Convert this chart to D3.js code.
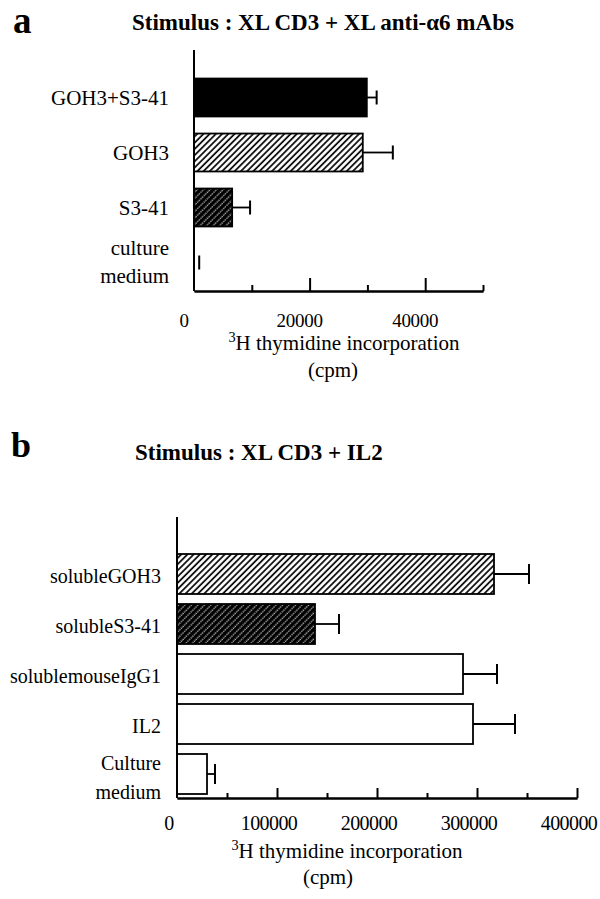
<!DOCTYPE html>
<html>
<head>
<meta charset="utf-8">
<script src="https://cdn.jsdelivr.net/npm/d3@7"></script>
<style>
  html, body { margin: 0; padding: 0; background: #fff; }
  svg { display: block; }
</style>
</head>
<body>
<svg id="chart" width="600" height="899" font-family="'Liberation Serif', 'Times New Roman', Times, serif"></svg>
<script>
// ---------- Panel a data ----------
const catsA = ["GOH3+S3-41", "GOH3", "S3-41", "culture\nmedium"];
const valsA = [29900, 29200, 6600, 0];
const errsA = [1700, 5200, 3100, 900];
const fillsA = ["solid", "light", "dark", "none"];
const majorTicksA = [20000, 40000];
const minorTicksA = [10000, 30000, 50000];
const tickLabelsA = [0, 20000, 40000];

// ---------- Panel b data ----------
const catsB = ["solubleGOH3", "solubleS3-41", "solublemouseIgG1", "IL2", "Culture\nmedium"];
const valsB = [317000, 138000, 286000, 296000, 30000];
const errsB = [35000, 24000, 34000, 42000, 8000];
const fillsB = ["light", "dark", "none", "none", "none"];
const majorTicksB = [100000, 200000, 300000, 400000];
const minorTicksB = [50000, 150000, 250000, 350000];
const tickLabelsB = [0, 100000, 200000, 300000, 400000];

const FONT = "'Liberation Serif', 'Times New Roman', Times, serif";
const svg = d3.select("#chart");
const defs = svg.append("defs");

// light hatch: white with black diagonal lines
const pl = defs.append("pattern").attr("id", "light")
  .attr("patternUnits", "userSpaceOnUse").attr("width", 4.4).attr("height", 4.4)
  .attr("patternTransform", "rotate(45)");
pl.append("rect").attr("width", 4.4).attr("height", 4.4).attr("fill", "#fff");
pl.append("line").attr("x1", 1).attr("x2", 1).attr("y1", 0).attr("y2", 4.4)
  .attr("stroke", "#000").attr("stroke-width", 1.7);

// dark hatch: black with thin dotted white diagonal lines
const pd = defs.append("pattern").attr("id", "dark")
  .attr("patternUnits", "userSpaceOnUse").attr("width", 4.6).attr("height", 4.6)
  .attr("patternTransform", "rotate(45)");
pd.append("rect").attr("width", 4.6).attr("height", 4.6).attr("fill", "#000");
pd.append("line").attr("x1", 2).attr("x2", 2).attr("y1", 0).attr("y2", 4.6)
  .attr("stroke", "#fff").attr("stroke-width", 0.9).attr("stroke-dasharray", "1.5,0.8");

function fillFor(f) {
  if (f === "solid") return "#000";
  if (f === "light") return "url(#light)";
  if (f === "dark") return "url(#dark)";
  return "#fff";
}

function txt(g) {
  return g.append("text").attr("font-family", FONT).attr("fill", "#000");
}

function panel(cfg) {
  const g = svg.append("g");
  const x = d3.scaleLinear().domain(cfg.domain).range(cfg.xRange);
  const y = d3.scaleBand().domain(cfg.cats).range(cfg.yRange)
    .paddingInner(cfg.padIn).paddingOuter(cfg.padOut);

  // bars
  g.selectAll("rect.bar").data(cfg.cats).join("rect")
    .attr("class", "bar")
    .attr("x", x(0))
    .attr("y", d => y(d))
    .attr("width", (d, i) => x(cfg.vals[i]) - x(0))
    .attr("height", y.bandwidth())
    .attr("fill", (d, i) => fillFor(cfg.fills[i]))
    .attr("stroke", "#000")
    .attr("stroke-width", (d, i) => cfg.vals[i] > 0 ? 1.8 : 0);

  // error bars
  cfg.cats.forEach((c, i) => {
    const cy = y(c) + y.bandwidth() / 2;
    const x1 = x(cfg.vals[i]), x2 = x(cfg.vals[i] + cfg.errs[i]);
    if (cfg.vals[i] > 0) {
      g.append("line").attr("x1", x1).attr("x2", x2).attr("y1", cy).attr("y2", cy)
        .attr("stroke", "#000").attr("stroke-width", 1.8);
    }
    g.append("line").attr("x1", x2).attr("x2", x2)
      .attr("y1", cy - cfg.cap / 2).attr("y2", cy + cfg.cap / 2)
      .attr("stroke", "#000").attr("stroke-width", 2);
  });

  // y axis line
  g.append("line").attr("x1", x(0)).attr("x2", x(0))
    .attr("y1", cfg.yTop).attr("y2", cfg.axisY)
    .attr("stroke", "#000").attr("stroke-width", 2);

  // x axis: minor and major ticks (pointing up)
  const minor = g.append("g").attr("transform", `translate(0,${cfg.axisY})`)
    .call(d3.axisBottom(x).tickValues(cfg.minor).tickSizeInner(-cfg.minorLen).tickSizeOuter(0).tickFormat(""));
  const major = g.append("g").attr("transform", `translate(0,${cfg.axisY})`)
    .call(d3.axisBottom(x).tickValues(cfg.major).tickSizeInner(-cfg.majorLen).tickSizeOuter(0).tickFormat(""));
  [minor, major].forEach(a => {
    a.selectAll("path, line").attr("stroke", "#000").attr("stroke-width", 2);
    a.selectAll("text").remove();
  });

  // tick labels
  cfg.tickLabels.forEach(d => {
    txt(g).attr("x", x(d) + cfg.tlDx).attr("y", cfg.tlY)
      .attr("text-anchor", "middle")
      .attr("font-size", cfg.tlSize)
      .attr("letter-spacing", cfg.tlSpacing)
      .text(d);
  });

  // category labels
  cfg.cats.forEach(c => {
    const lines = c.split("\n");
    const cy = y(c) + y.bandwidth() / 2;
    const offs = lines.length === 1 ? [cfg.lblDy] : cfg.twoLineDy;
    lines.forEach((ln, k) => {
      txt(g).attr("x", cfg.lblX).attr("y", cy + offs[k] + cfg.lblSize * 0.33)
        .attr("text-anchor", "end").attr("font-size", cfg.lblSize)
        .text(ln);
    });
  });

  // axis title
  const t = txt(g).attr("x", cfg.titleX).attr("y", cfg.titleY)
    .attr("text-anchor", "middle").attr("font-size", cfg.titleSize);
  t.append("tspan").attr("font-size", cfg.titleSize * 0.68).attr("dy", -8).text("3");
  t.append("tspan").attr("dy", 8).text("H thymidine incorporation");
  txt(g).attr("x", cfg.cpmX).attr("y", cfg.cpmY)
    .attr("text-anchor", "middle").attr("font-size", cfg.titleSize).text("(cpm)");

  // panel letter and stimulus heading
  txt(g).attr("x", cfg.letterX).attr("y", cfg.letterY)
    .attr("font-size", cfg.letterSize).attr("font-weight", "bold").text(cfg.letter);
  txt(g).attr("x", cfg.headX).attr("y", cfg.headY)
    .attr("font-size", cfg.headSize).attr("font-weight", "bold").text(cfg.head);
}

panel({
  cats: catsA, vals: valsA, errs: errsA, fills: fillsA,
  domain: [0, 50000], xRange: [194, 483],
  yRange: [70, 290], padIn: 0.31, padOut: 0.155,
  yTop: 50, axisY: 291, cap: 14,
  minor: minorTicksA, major: majorTicksA, minorLen: 6, majorLen: 13,
  tickLabels: tickLabelsA, tlDx: -10, tlY: 327, tlSize: 19, tlSpacing: -0.3,
  lblX: 169, lblDy: 1, twoLineDy: [-14, 14], lblSize: 21,
  titleX: 344, titleY: 350, titleSize: 21, cpmX: 333, cpmY: 377,
  letter: "a", letterX: 13, letterY: 33, letterSize: 37,
  head: "Stimulus : XL CD3 + XL anti-\u03b16 mAbs", headX: 132, headY: 30, headSize: 23
});

panel({
  cats: catsB, vals: valsB, errs: errsB, fills: fillsB,
  domain: [0, 400000], xRange: [177, 577],
  yRange: [549, 799], padIn: 0.2, padOut: 0.1,
  yTop: 517, axisY: 798, cap: 20,
  minor: minorTicksB, major: majorTicksB, minorLen: 5, majorLen: 10,
  tickLabels: tickLabelsB, tlDx: -8, tlY: 830, tlSize: 20, tlSpacing: -0.6,
  lblX: 161, lblDy: 2, twoLineDy: [-11, 18], lblSize: 20,
  titleX: 347, titleY: 858, titleSize: 21, cpmX: 328, cpmY: 884,
  letter: "b", letterX: 11, letterY: 457, letterSize: 36,
  head: "Stimulus : XL CD3 + IL2", headX: 135, headY: 460, headSize: 23
});
</script>
</body>
</html>
